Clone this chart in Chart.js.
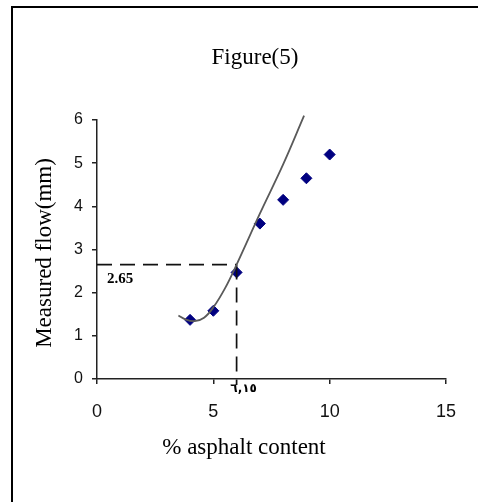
<!DOCTYPE html>
<html>
<head>
<meta charset="utf-8">
<script src="https://cdn.jsdelivr.net/npm/chart.js@4.4.1/dist/chart.umd.min.js"></script>
<style>
  html, body { margin: 0; padding: 0; background: #fff; }
  #wrap { width: 478px; height: 502px; }
</style>
</head>
<body>
<div id="wrap"><canvas id="chart-flow" width="478" height="502"></canvas></div>
<script>
// measured points
const pctAsphalt = [4, 5, 6, 7, 8, 9, 10];
const flowMm = [1.37, 1.58, 2.47, 3.6, 4.15, 4.65, 5.2];

// fitted curve
const curveX = [3.5, 3.8, 4.2, 4.6, 5.0, 5.5, 6.0, 7.0, 8.0, 8.9];
const curveY = [1.47, 1.38, 1.34, 1.42, 1.66, 2.1, 2.65, 3.83, 4.97, 6.1];

// optimum marker lines
const optimumPct = 6.0;
const optimumFlow = 2.65;
const optimumFlowLabel = "2.65";
const optimumPctLabel = "٦,١٥";

const xTicks = [0, 5, 10, 15];
const yTicks = [0, 1, 2, 3, 4, 5, 6];

const SERIF = "'Liberation Serif', 'Times New Roman', serif";
const SANS = "'Liberation Sans', Arial, sans-serif";

function zip(xs, ys) {
  return xs.map((x, i) => ({ x, y: ys[i] }));
}

/** Frame, title, axis titles and the two small value labels. */
const textPlugin = {
  id: "figureText",
  afterDraw(chart) {
    const { ctx, scales } = chart;
    const x = scales.x;
    const y = scales.y;
    ctx.save();

    ctx.strokeStyle = "#000";
    ctx.lineWidth = 2;
    ctx.beginPath();
    ctx.moveTo(12, 502);
    ctx.lineTo(12, 7);
    ctx.lineTo(478, 7);
    ctx.stroke();

    ctx.fillStyle = "#000";
    ctx.textAlign = "center";
    ctx.textBaseline = "alphabetic";
    ctx.font = `23px ${SERIF}`;
    ctx.fillText("Figure(5)", 255, 64);
    ctx.fillText("% asphalt content", 244, 454);

    ctx.save();
    ctx.translate(51, 253);
    ctx.rotate(-Math.PI / 2);
    ctx.fillText("Measured flow(mm)", 0, 0);
    ctx.restore();

    ctx.textAlign = "left";
    ctx.font = `bold 15px ${SERIF}`;
    ctx.fillText(optimumFlowLabel, x.getPixelForValue(0) + 10, y.getPixelForValue(optimumFlow) + 18);

    ctx.textAlign = "center";
    ctx.font = "bold 12px 'DejaVu Sans', sans-serif";
    ctx.fillText(optimumPctLabel, x.getPixelForValue(optimumPct) + 7, y.getPixelForValue(0) + 13);

    ctx.restore();
  },
};

new Chart(document.getElementById("chart-flow"), {
  type: "scatter",
  data: {
    datasets: [
      {
        label: "Fit",
        data: zip(curveX, curveY),
        showLine: true,
        tension: 0.4,
        borderColor: "#5a5a5a",
        borderWidth: 1.8,
        pointRadius: 0,
        clip: false,
      },
      {
        label: "Optimum flow",
        data: [{ x: 0, y: optimumFlow }, { x: optimumPct, y: optimumFlow }],
        showLine: true,
        borderColor: "#111",
        borderWidth: 1.7,
        borderDash: [15, 8],
        pointRadius: 0,
        clip: false,
      },
      {
        label: "Optimum content",
        data: [{ x: optimumPct, y: optimumFlow }, { x: optimumPct, y: -0.14 }],
        showLine: true,
        borderColor: "#111",
        borderWidth: 1.7,
        borderDash: [15, 8],
        pointRadius: 0,
        clip: false,
      },
      {
        label: "Measured flow",
        data: zip(pctAsphalt, flowMm),
        pointStyle: "rectRot",
        pointRadius: 5.5,
        backgroundColor: "#000080",
        borderColor: "#000080",
        borderWidth: 1,
      },
    ],
  },
  options: {
    responsive: false,
    animation: false,
    layout: { padding: { left: 57, right: 32, top: 120, bottom: 83 } },
    plugins: {
      legend: { display: false },
      tooltip: { enabled: false },
    },
    scales: {
      x: {
        type: "linear",
        min: 0,
        max: 15,
        afterFit: (s) => { s.height = 40; },
        afterBuildTicks: (s) => { s.ticks = xTicks.map((v) => ({ value: v })); },
        border: { display: true, color: "#222", width: 1.5 },
        grid: { display: true, drawOnChartArea: false, drawTicks: true, tickLength: 5, color: "#222", lineWidth: 1.5 },
        ticks: { color: "#111", padding: 17, font: { family: SANS, size: 18 } },
      },
      y: {
        type: "linear",
        min: 0,
        max: 6,
        afterFit: (s) => { s.width = 40; },
        afterBuildTicks: (s) => { s.ticks = yTicks.map((v) => ({ value: v })); },
        border: { display: true, color: "#222", width: 1.5 },
        grid: { display: true, drawOnChartArea: false, drawTicks: true, tickLength: 5, color: "#222", lineWidth: 1.5 },
        ticks: { color: "#111", padding: 9, font: { family: SANS, size: 16 } },
      },
    },
  },
  plugins: [textPlugin],
});
</script>
</body>
</html>
